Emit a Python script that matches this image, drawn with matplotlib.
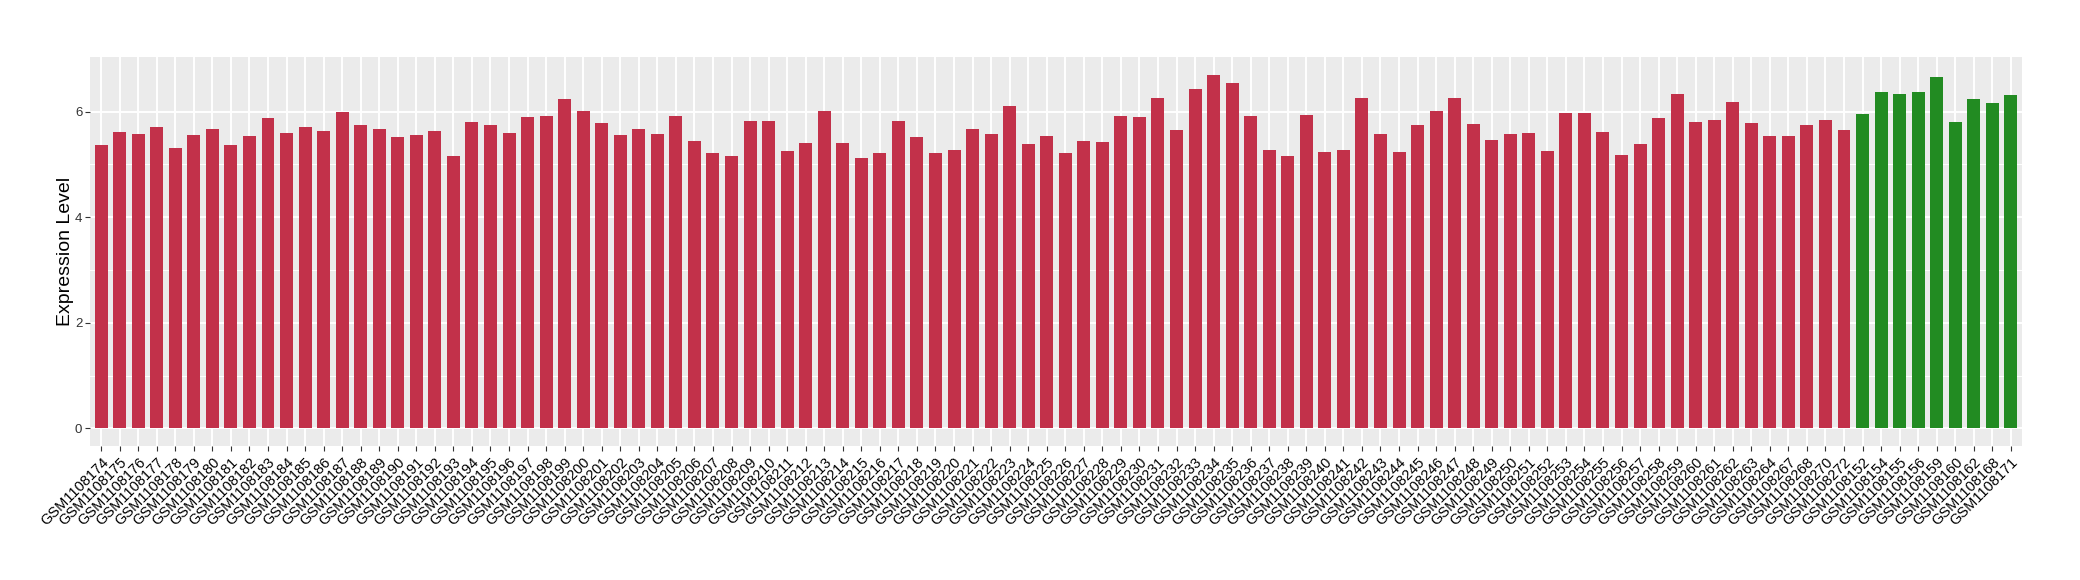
import matplotlib
matplotlib.use("Agg")
import matplotlib.pyplot as plt
import numpy as np

# sample names (red group then green group)
red_ids = list(range(1108174, 1108265)) + [1108267, 1108268, 1108270, 1108272]
green_ids = [1108152, 1108154, 1108155, 1108156, 1108159, 1108160, 1108162, 1108168, 1108171]
samples = ['GSM' + str(i) for i in red_ids + green_ids]

red_values = [
    5.36, 5.62, 5.58, 5.70, 5.32, 5.55, 5.68, 5.36, 5.53, 5.87,
    5.60, 5.70, 5.64, 6.00, 5.74, 5.68, 5.51, 5.55, 5.64, 5.15,
    5.81, 5.75, 5.60, 5.89, 5.91, 6.23, 6.02, 5.79, 5.55, 5.68,
    5.57, 5.92, 5.45, 5.21, 5.15, 5.83, 5.83, 5.26, 5.41, 6.02,
    5.41, 5.13, 5.22, 5.83, 5.51, 5.21, 5.28, 5.68, 5.57, 6.11,
    5.38, 5.53, 5.21, 5.45, 5.43, 5.91, 5.89, 6.25, 5.66, 6.43,
    6.70, 6.55, 5.92, 5.28, 5.15, 5.94, 5.24, 5.28, 6.25, 5.57,
    5.24, 5.74, 6.02, 6.26, 5.77, 5.47, 5.58, 5.60, 5.26, 5.98,
    5.98, 5.62, 5.17, 5.38, 5.87, 6.34, 5.81, 5.85, 6.19, 5.79,
    5.53, 5.53, 5.74, 5.85, 5.66,
]
green_values = [5.96, 6.38, 6.34, 6.38, 6.66, 5.81, 6.23, 6.17, 6.32]

values = red_values + green_values
colors = ['#C2314A'] * len(red_values) + ['#228B22'] * len(green_values)

fig = plt.figure(figsize=(20.8, 5.8), dpi=100)
ax = fig.add_axes([90 / 2080, 1 - 446 / 580, (2022 - 90) / 2080, (446 - 57) / 580])

x = np.arange(len(samples))
ax.set_facecolor('#EBEBEB')
ax.set_yticks([1, 3, 5], minor=True)
ax.grid(True, which='major', color='white', linewidth=1.4)
ax.grid(True, which='minor', axis='y', color='white', linewidth=0.7)
ax.set_axisbelow(True)

ax.bar(x, values, width=0.7, color=colors)

top = max(values)
ax.set_xlim(-0.6, len(samples) - 0.4)
ax.set_ylim(-0.05 * top, top * 1.05)
ax.set_yticks([0, 2, 4, 6])
ax.set_xticks(x)
ax.set_xticklabels(samples, rotation=45, ha='right', va='top',
                   rotation_mode='anchor', fontsize=10.5, family='Liberation Sans')
for lab in ax.get_yticklabels():
    lab.set_fontsize(9.5)
    lab.set_family('Liberation Sans')
    lab.set_color('#333333')
ax.tick_params(axis='both', which='major', length=3.5, color='#333333', width=0.8)
ax.tick_params(axis='x', pad=3)
ax.tick_params(axis='y', pad=2)
ax.tick_params(axis='y', which='minor', length=0)
for s in ax.spines.values():
    s.set_visible(False)

ax.set_ylabel('Expression Level', fontsize=14, family='Liberation Sans', labelpad=1)

fig.savefig('out.png', dpi=100)
